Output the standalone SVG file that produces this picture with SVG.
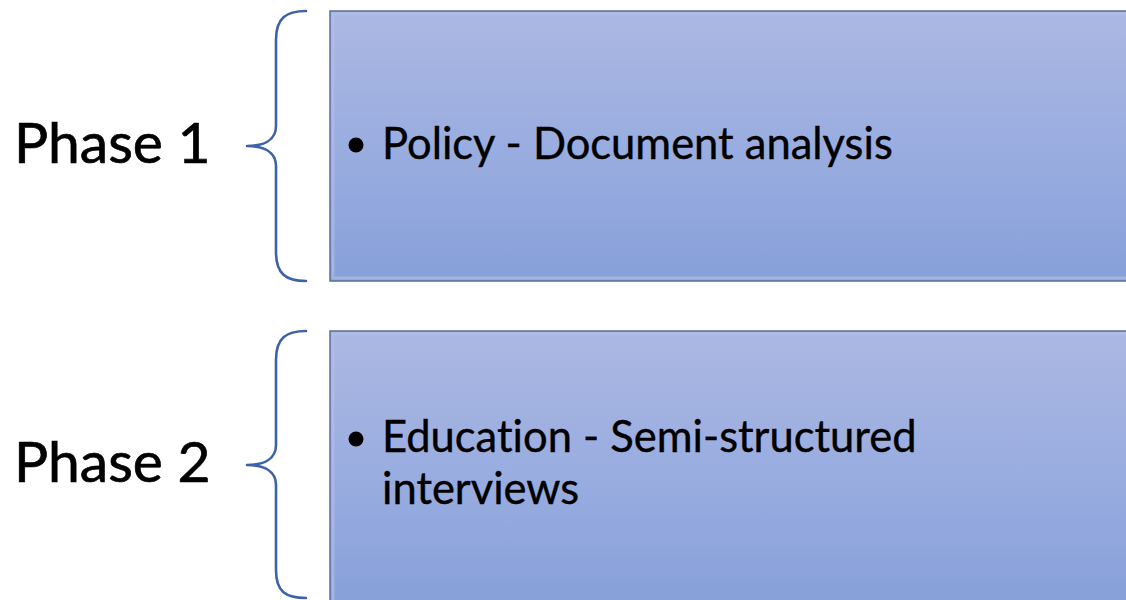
<svg xmlns="http://www.w3.org/2000/svg" width="1126" height="600" viewBox="0 0 1126 600">
  <style>
    text { font-variant-ligatures: none; font-feature-settings: "liga" 0, "clig" 0; }
    .phase { font-family: Lato, "Open Sans", "Liberation Sans", sans-serif; font-size: 57px; fill: #000; stroke: #000; stroke-width: 0.7; }
    .item { font-family: Lato, "Open Sans", "Liberation Sans", sans-serif; font-size: 43.5px; fill: #000; stroke: #000; stroke-width: 0.4; }
    .brace { fill: none; stroke: #3d62a8; stroke-width: 2.6; stroke-linecap: round; stroke-linejoin: round; }
    .panel { fill: url(#panelFill); stroke: #5b6f9c; stroke-width: 1.5; }
    .sheen { fill: none; stroke: #b4c1e6; stroke-width: 3; opacity: 0.6; }
  </style>
  <defs>
    <linearGradient id="panelFill" x1="0" y1="0" x2="0" y2="1">
      <stop offset="0" stop-color="#abb8e2"/>
      <stop offset="0.5" stop-color="#9aade0"/>
      <stop offset="1" stop-color="#87a0d9"/>
    </linearGradient>
  </defs>
  <rect width="1126" height="600" fill="#ffffff"/>

  <!-- brackets joining each phase label to its panel -->
  <g id="connectors">
    <path class="brace" d="M306,11 C286,11 276,18 276,40 L276,126 C276,140 264,146 247,146 C264,146 276,152 276,166 L276,252 C276,274 286,281 306,281"/>
    <path class="brace" d="M306,331 C286,331 276,338 276,360 L276,445 C276,459 264,465 247,465 C264,465 276,471 276,485 L276,570 C276,592 286,598 306,598"/>
  </g>

  <g id="phase1-label">
    <text class="phase" x="14" y="163">Phase 1</text>
  </g>
  <g id="phase2-label">
    <text class="phase" x="14" y="482">Phase 2</text>
  </g>

  <g id="phase1-panel">
    <rect class="panel" x="330" y="11" width="800" height="270"/>
    <rect class="sheen" x="333" y="14" width="800" height="264"/>
    <circle cx="356" cy="145" r="7.5" fill="#000"/>
    <text class="item" x="382" y="159">Policy - Document analysis</text>
  </g>

  <g id="phase2-panel">
    <rect class="panel" x="330" y="331" width="800" height="275"/>
    <rect class="sheen" x="333" y="334" width="800" height="270"/>
    <circle cx="356" cy="439" r="7.5" fill="#000"/>
    <text class="item" x="382" y="452">Education - Semi-structured</text>
    <text class="item" x="382" y="504">interviews</text>
  </g>
</svg>
